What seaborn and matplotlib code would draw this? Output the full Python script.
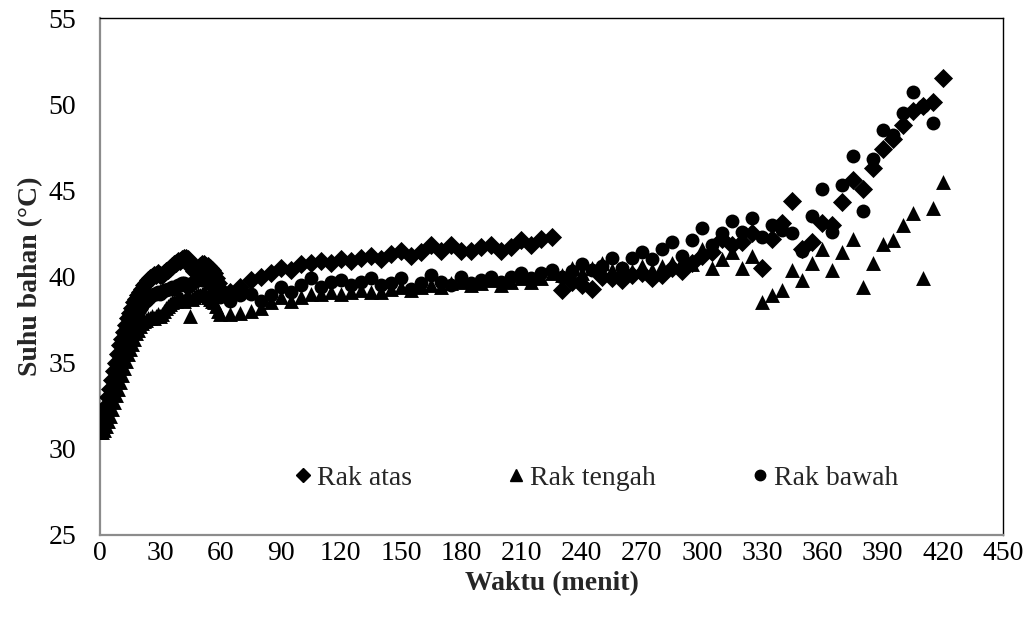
import numpy as np
import pandas as pd
import matplotlib
matplotlib.use("Agg")
import matplotlib.pyplot as plt
import seaborn as sns
from matplotlib.lines import Line2D

# ---- data ----
t_early = list(range(0, 61))            # 1-minute readings, 0..60
t_late = list(range(65, 421, 5))        # 5-minute readings, 65..420

atas_early = [31.4, 31.6, 32.0, 32.5, 33.0, 33.5, 34.0, 34.5, 35.0, 35.5,
              36.0, 36.4, 36.8, 37.2, 37.6, 37.9, 38.2, 38.5, 38.7, 38.9,
              39.1, 39.3, 39.5, 39.6, 39.8, 39.9, 40.0, 40.1, 40.1, 40.2,
              40.1, 40.1, 40.2, 40.3, 40.4, 40.5, 40.6, 40.7, 40.8, 40.9,
              40.9, 41.0, 41.1, 41.1, 41.0, 40.8, 40.5, 40.3, 40.4, 40.5,
              40.6, 40.7, 40.7, 40.6, 40.6, 40.5, 40.4, 40.2, 39.9, 39.6,
              39.3]
atas_late = [39.1, 39.4, 39.8, 40.0, 40.2, 40.5, 40.4, 40.7, 40.8, 40.9,
             40.8, 41.0, 40.9, 41.1, 41.2, 41.0, 41.3, 41.5, 41.2, 41.4,
             41.8, 41.5, 41.8, 41.5, 41.5, 41.7, 41.8, 41.5, 41.7, 42.1,
             41.8, 42.2, 42.3,
             39.2, 39.7, 39.5, 39.3, 40.0, 39.9, 39.8, 40.1, 40.2, 39.9,
             40.1, 40.5, 40.3, 40.8, 41.2, 41.4, 42.2, 41.8, 42.0, 42.5,
             40.5, 42.2, 43.1, 44.4, 41.6, 42.0, 43.1, 43.0, 44.3, 45.6,
             45.1, 46.3, 47.4, 48.0, 48.8, 49.6, 49.9, 50.1, 51.5]

tengah_early = [31.0, 31.0, 31.1, 31.3, 31.6, 31.9, 32.3, 32.7, 33.1, 33.5,
                33.9, 34.3, 34.7, 35.1, 35.5, 35.8, 36.1, 36.4, 36.7, 36.9,
                37.1, 37.3, 37.4, 37.5, 37.6, 37.6, 37.7, 37.6, 37.7, 37.8,
                37.7, 37.8, 38.0, 38.2, 38.3, 38.4, 38.5, 38.6, 38.6, 38.7,
                38.8, 38.7, 38.6, 38.8, 38.9, 37.7, 38.7, 38.8, 38.9, 39.0,
                38.9, 39.0, 39.1, 38.9, 38.8, 38.7, 38.6, 38.5, 38.3, 38.0,
                37.8]
tengah_late = [37.8, 37.9, 38.0, 38.2, 38.5, 38.8, 38.6, 38.8, 39.0, 39.0,
               39.1, 39.0, 39.1, 39.2, 39.1, 39.1, 39.3, 39.4, 39.2, 39.4,
               39.5, 39.4, 39.6, 39.7, 39.5, 39.6, 39.8, 39.5, 39.7, 39.9,
               39.7, 39.9, 40.2,
               40.1, 40.5, 40.2, 40.5, 40.8, 40.4, 40.5, 40.3, 40.6, 40.4,
               40.6, 40.8, 40.9, 40.7, 41.6, 40.5, 41.0, 41.4, 40.5, 41.2,
               38.5, 38.9, 39.2, 40.4, 39.8, 40.8, 41.6, 40.4, 41.4, 42.2,
               39.4, 40.8, 41.9, 42.1, 43.0, 43.7, 39.9, 44.0, 45.5]

bawah_early = [31.2, 31.3, 31.5, 31.8, 32.2, 32.6, 33.0, 33.5, 33.9, 34.4,
               34.8, 35.3, 35.7, 36.1, 36.5, 36.8, 37.1, 37.4, 37.7, 37.9,
               38.1, 38.3, 38.5, 38.6, 38.7, 38.8, 38.9, 39.0, 39.0, 39.1,
               39.0, 39.1, 39.2, 39.2, 39.3, 39.3, 39.4, 39.3, 39.4, 39.5,
               39.5, 39.6, 39.6, 39.5, 39.4, 39.5, 39.6, 39.7, 39.8, 39.8,
               39.9, 39.8, 39.9, 39.8, 39.7, 39.6, 39.5, 39.3, 39.1, 39.0,
               38.8]
bawah_late = [38.6, 38.9, 39.0, 38.6, 38.9, 39.4, 39.1, 39.5, 39.9, 39.4,
              39.7, 39.8, 39.5, 39.7, 39.9, 39.5, 39.6, 39.9, 39.3, 39.6,
              40.1, 39.7, 39.5, 40.0, 39.6, 39.8, 40.0, 39.7, 40.0, 40.2,
              39.9, 40.2, 40.4,
              40.0, 40.3, 40.7, 40.4, 40.6, 41.1, 40.5, 41.1, 41.4, 41.0,
              41.6, 42.0, 41.2, 42.1, 42.8, 41.8, 42.5, 43.2, 42.6, 43.4,
              42.3, 43.0, 42.7, 42.5, 41.5, 43.5, 45.1, 42.6, 45.3, 47.0,
              43.8, 46.8, 48.5, 48.2, 49.5, 50.7, 49.9, 48.9]

series_names = ["Rak atas", "Rak tengah", "Rak bawah"]
x_ticks = list(range(0, 451, 30))
y_ticks = list(range(25, 56, 5))

frames = []
for name, early, late in [("Rak atas", atas_early, atas_late),
                          ("Rak tengah", tengah_early, tengah_late),
                          ("Rak bawah", bawah_early, bawah_late)]:
    tt = t_early + t_late[:len(late)]
    frames.append(pd.DataFrame({"Waktu": tt, "Suhu": early + late, "Rak": name}))
df = pd.concat(frames, ignore_index=True)

# ---- plot ----
sns.set_theme(style="white")
plt.rcParams["font.family"] = ["Liberation Serif", "DejaVu Serif"]

fig = plt.figure(figsize=(10.35, 6.26), dpi=100)
ax = fig.add_axes([100 / 1035, 1 - 535 / 626, 903 / 1035, 517 / 626])

markers = {"Rak atas": "D", "Rak tengah": "^", "Rak bawah": "o"}
sizes = {"Rak atas": 95, "Rak tengah": 115, "Rak bawah": 100}
for name in series_names:
    sub = df[df["Rak"] == name]
    sns.scatterplot(data=sub, x="Waktu", y="Suhu", ax=ax, color="black",
                    marker=markers[name], s=sizes[name], linewidth=0,
                    legend=False, zorder=3)

ax.set_xlim(0, 450)
ax.set_ylim(25, 55)
ax.set_xticks(x_ticks)
ax.set_yticks(y_ticks)
ax.tick_params(axis="both", direction="in", length=7, width=1.2,
               color="#8c8c8c", labelsize=20, labelcolor="black")
ax.tick_params(axis="x", pad=4)
ax.tick_params(axis="y", pad=17)
for side in ["left", "bottom"]:
    ax.spines[side].set_color("#8c8c8c")
    ax.spines[side].set_linewidth(1.6)
for side in ["top", "right"]:
    ax.spines[side].set_color("black")
    ax.spines[side].set_linewidth(1.0)

ax.set_xlabel("Waktu (menit)", fontsize=20, fontweight="bold", labelpad=4)
ax.set_ylabel("Suhu bahan (°C)", fontsize=20, fontweight="bold", labelpad=4)

handles = [Line2D([], [], linestyle="none", marker="D", color="black", markersize=7),
           Line2D([], [], linestyle="none", marker="^", color="black", markersize=8),
           Line2D([], [], linestyle="none", marker="o", color="black", markersize=7.5)]
ax.legend(handles, series_names, loc="center", bbox_to_anchor=(0.549, 0.110),
          ncol=3, frameon=False, fontsize=20, handletextpad=0.15,
          columnspacing=3.4, handlelength=0.7)

fig.savefig("out.png", dpi=100)
